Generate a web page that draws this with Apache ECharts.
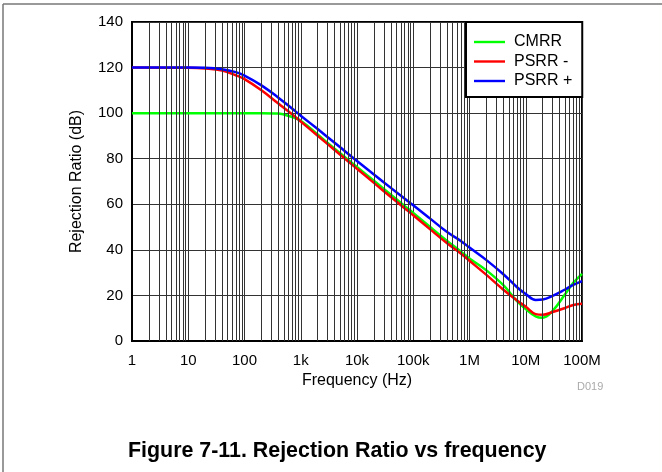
<!DOCTYPE html>
<html>
<head>
<meta charset="utf-8">
<script src="https://cdn.jsdelivr.net/npm/echarts@6/dist/echarts.min.js"></script>
<style>
html,body{margin:0;padding:0;background:#fff;}
#c{width:662px;height:472px;}
</style>
</head>
<body>
<div id="c"></div>
<script>
const freqs = [1, 10, 20, 40, 70, 100, 200, 400, 700, 1e3, 2e3, 4e3, 7e3, 1e4, 2e4, 4e4, 7e4, 1e5, 2e5, 4e5, 7e5, 1e6, 2e6, 4e6, 7e6, 1e7, 1.5e7, 2e7, 3e7, 5e7, 7e7, 1e8];
const cmrr      = [100, 100, 100, 100, 100, 100, 100, 99.8, 98.3, 96.7, 90.6, 84.4, 79.5, 76.4, 70.3, 64.2, 59.3, 56.2, 50, 43.9, 39.3, 36.2, 31, 24.5, 17.5, 14, 10.8, 10.2, 13.2, 20.5, 25.5, 29.5];
const psrrMinus = [120, 119.9, 119.6, 118.7, 116.6, 114.9, 110, 104.2, 99.5, 96.3, 90.1, 83.8, 78.8, 75.6, 69.4, 63.2, 58.3, 55.2, 49, 42.9, 38.4, 35.2, 29, 22.5, 17.8, 15, 11.8, 11.5, 12.7, 14.5, 15.8, 16.3];
const psrrPlus  = [120, 120, 119.9, 119.3, 118, 116.5, 112.2, 106.8, 102, 98.9, 93, 87, 82.1, 79, 73.1, 67.2, 62.5, 59.6, 53.7, 47.8, 43.9, 41, 35.5, 29.3, 23.6, 20.6, 18, 18.2, 19.8, 22.6, 24.6, 26.3];
const seriesNames = ['CMRR', 'PSRR -', 'PSRR +'];
const seriesColors = ['#00ff00', '#ff0000', '#0000ff'];
const xTickLabels = {1:'1', 10:'10', 100:'100', 1000:'1k', 10000:'10k', 100000:'100k', 1000000:'1M', 10000000:'10M', 100000000:'100M'};

const minorX = [];
for (let d = 0; d < 8; d++) for (let k = 2; k <= 9; k++) minorX.push(k * Math.pow(10, d));

function pairs(vals){ return freqs.map((f,i)=>[f, vals[i]]); }

const chart = echarts.init(document.getElementById('c'), null, {renderer:'canvas'});
const font = 'Liberation Sans, Arial, sans-serif';
const gridColor = '#333';
chart.setOption({
  animation: false,
  backgroundColor: '#fff',
  grid: {left: 132, top: 22, right: 80, bottom: 131, show: true, borderColor: '#000', borderWidth: 2, backgroundColor: 'transparent'},
  xAxis: {
    type: 'log', logBase: 10, min: 1, max: 1e8,
    name: 'Frequency (Hz)', nameLocation: 'middle', nameGap: 30,
    nameTextStyle: {fontFamily: font, fontSize: 16, color: '#000'},
    axisLine: {show: true, lineStyle: {color: '#000', width: 2}},
    axisTick: {show: false},
    axisLabel: {fontFamily: font, fontSize: 15, color: '#000', margin: 12,
      formatter: v => xTickLabels[Math.round(v)] || ''},
    splitLine: {show: true, lineStyle: {color: gridColor, width: 1}}
  },
  yAxis: {
    type: 'value', min: 0, max: 140, interval: 20,
    name: 'Rejection Ratio (dB)', nameLocation: 'middle', nameGap: 47,
    nameTextStyle: {fontFamily: font, fontSize: 16, color: '#000'},
    axisLine: {show: true, lineStyle: {color: '#000', width: 2}},
    axisTick: {show: false},
    axisLabel: {fontFamily: font, fontSize: 15, color: '#000', margin: 9},
    splitLine: {show: true, lineStyle: {color: gridColor, width: 1}}
  },
  legend: {
    orient: 'vertical', left: 466, top: 22, itemWidth: 31, itemHeight: 14, itemGap: 3.5,
    z: 20, backgroundColor: '#fff', borderColor: '#000', borderWidth: 2,
    padding: [12, 10, 8, 8],
    data: seriesNames.map((n,i)=>({name:n, icon:'path://M0,5.8 L31,5.8 L31,8.2 L0,8.2 Z', itemStyle:{color:seriesColors[i]}})),
    textStyle: {fontFamily: font, fontSize: 16, color: '#000', padding: [0, 0, 0, 4]}
  },
  graphic: {
    elements: [
      {type:'line', shape:{x1:3, y1:4, x2:662, y2:4}, style:{stroke:'#777', lineWidth:1.5}},
      {type:'line', shape:{x1:3, y1:4, x2:3, y2:472}, style:{stroke:'#777', lineWidth:1.5}},
      {type:'text', left: 577, top: 381, style:{text:'D019', fontFamily: font, fontSize: 11, fill:'#aaa'}},
      {type:'text', left: 128, top: 441, style:{text:'Figure 7-11. Rejection Ratio vs frequency', fontFamily: font, fontSize: 21.4, fontWeight: 'bold', fill:'#000'}}
    ]
  },
  series: [
    {type:'line', name:'_grid', data: [], silent: true, z: 1,
      markLine: {silent: true, symbol: 'none', label: {show: false}, animation: false,
        lineStyle: {color: gridColor, width: 1, type: 'solid'},
        data: minorX.map(v => ({xAxis: v}))}},
  ].concat([cmrr, psrrMinus, psrrPlus].map((vals,i)=>({
    type: 'line', name: seriesNames[i], data: pairs(vals), smooth: 0.4, symbol: 'none',
    lineStyle: {color: seriesColors[i], width: 2.5}, itemStyle: {color: seriesColors[i]}, z: 3
  })))
});
</script>
</body>
</html>
